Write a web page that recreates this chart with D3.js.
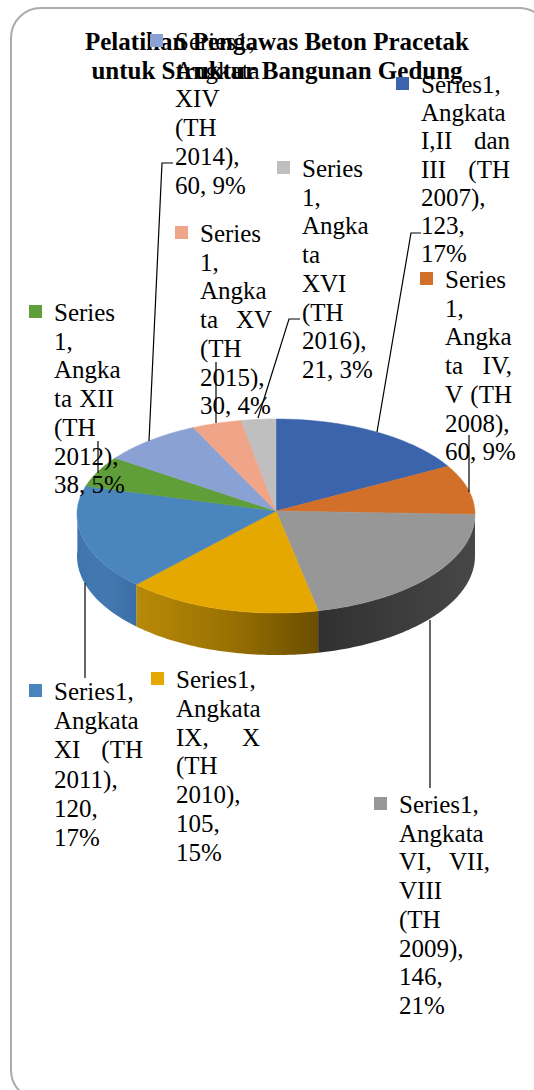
<!DOCTYPE html>
<html>
<head>
<meta charset="utf-8">
<script src="https://cdn.jsdelivr.net/npm/d3@7"></script>
<style>
  html, body { margin: 0; padding: 0; background: #fff; }
  svg { display: block; }
  text { font-family: "Liberation Serif", serif; fill: #000; }
</style>
</head>
<body>
<script>
// Data
const categories = ["Angkata I,II dan III (TH 2007)", "Angkata IV, V (TH 2008)", "Angkata VI, VII, VIII (TH 2009)",
    "Angkata IX, X (TH 2010)", "Angkata XI (TH 2011)", "Angkata XII (TH 2012)",
    "Angkata XIV (TH 2014)", "Angkata XV (TH 2015)", "Angkata XVI (TH 2016)"]
const values = [123, 60, 146, 105, 120, 38, 60, 30, 21]
const colors = ["#3b64ad", "#d2702a", "#979797", "#e5a800", "#4a85be", "#5f9e38", "#8aa1d4", "#f0a488", "#bfbfbf"]
const titleLines = ["Pelatihan Pengawas Beton Pracetak", "untuk Struktur Bangunan Gedung"]

// the label text wraps the way it did in the original, one array per slice
const labelLines = [
    ["Series1,", "Angkata", "I,II dan", "III (TH", "2007),", "123,", "17%"],
    ["Series", "1,", "Angka", "ta IV,", "V (TH", "2008),", "60, 9%"],
    ["Series1,", "Angkata", "VI, VII,", "VIII", "(TH", "2009),", "146,", "21%"],
    ["Series1,", "Angkata", "IX, X", "(TH", "2010),", "105,", "15%"],
    ["Series1,", "Angkata", "XI (TH", "2011),", "120,", "17%"],
    ["Series", "1,", "Angka", "ta XII", "(TH", "2012),", "38, 5%"],
    ["Series1,", "Angkata", "XIV", "(TH", "2014),", "60, 9%"],
    ["Series", "1,", "Angka", "ta XV", "(TH", "2015),", "30, 4%"],
    ["Series", "1,", "Angka", "ta", "XVI", "(TH", "2016),", "21, 3%"]
]

// Layout of the labels: x of text, first baseline, right edge of justified lines, line step
const labelLayout = [
    {x: 421, y: 93, right: 510, step: 28.2},
    {x: 445, y: 288, right: 512, step: 28.7},
    {x: 399, y: 813, right: 490, step: 28.7},
    {x: 176, y: 688, right: 260, step: 28.8},
    {x: 54, y: 700, right: 143, step: 29.2},
    {x: 54, y: 321, right: 114, step: 28.7},
    {x: 175, y: 50, right: 250, step: 28.7},
    {x: 200, y: 242, right: 272, step: 28.7},
    {x: 302, y: 177, right: 368, step: 28.7}
]

// Leader lines, one per labelled slice (gold has none)
const leaders = [
    [[377, 432], [411, 233], [421, 233]],
    [[469, 492], [469, 435]],
    [[430, 620], [430, 788]],
    [[85, 583], [85, 678]],
    [[98, 473], [98, 441]],
    [[149, 441], [162, 163], [173, 163]],
    [[216, 423], [216, 362]],
    [[258, 418], [289, 319], [300, 319]]
]

const width = 534, height = 1090
const swatch = 13

const svg = d3.select("body").append("svg")
    .attr("width", width)
    .attr("height", height)

// Slide frame, runs off the right and bottom of the page
svg.append("rect")
    .attr("x", 11).attr("y", 8)
    .attr("width", 538).attr("height", 1092)
    .attr("rx", 30).attr("ry", 30)
    .attr("fill", "none")
    .attr("stroke", "#ababab")
    .attr("stroke-width", 2)

// Pie geometry, flattened by hand to look like the tilted 3D chart
const cx = 276, cy = 511, rimY = 514
const rx = 199, ryUp = 95, ryDown = 99, depth = 42
const warp = 3.5 * Math.PI / 180

const rimPoint = angle => {
    // perspective pulls the slice edges a bit towards the viewer
    const a = angle - warp * Math.sin(angle)
    const c = Math.cos(a)
    return [cx + rx * Math.sin(a), rimY - (c > 0 ? ryUp : ryDown) * c]
}
const rimPoints = (a0, a1, dy) => {
    const n = Math.max(2, Math.ceil((a1 - a0) / 0.02))
    return d3.range(n + 1).map(i => {
        const p = rimPoint(a0 + (a1 - a0) * i / n)
        return [p[0], p[1] + dy]
    })
}

const arcs = d3.pie().sort(null).value(d => d)(values)
const line = d3.line()

const defs = svg.append("defs")
const sideGradients = [
    {slice: 2, id: "wall-gray", stops: ["#303030", "#3c3c3c", "#474747"]},
    {slice: 3, id: "wall-gold", stops: ["#b88a08", "#9a7202", "#6b4e00"]},
    {slice: 4, id: "wall-blue", stops: ["#3f75ae", "#4478b0", "#3a6ea5"]}
]
sideGradients.forEach(g => {
    const grad = defs.append("linearGradient").attr("id", g.id)
    g.stops.forEach((c, i) => grad.append("stop").attr("offset", i / 2).attr("stop-color", c))
})

// Side walls, only the front half of the rim shows
sideGradients.forEach(g => {
    const d = arcs[g.slice]
    const a0 = Math.max(d.startAngle, Math.PI / 2)
    const a1 = Math.min(d.endAngle, Math.PI * 1.5)
    const pts = rimPoints(a0, a1, 0).concat(rimPoints(a0, a1, depth).reverse())
    svg.append("path")
        .attr("d", line(pts) + "Z")
        .attr("fill", `url(#${g.id})`)
})

// Top of the pie
svg.append("g").selectAll("path")
    .data(arcs)
    .join("path")
    .attr("d", d => line([[cx, cy]].concat(rimPoints(d.startAngle, d.endAngle, 0))) + "Z")
    .attr("fill", (d, i) => colors[i])
    .attr("stroke", (d, i) => colors[i])
    .attr("stroke-width", 0.5)

// Title
svg.append("g").selectAll("text")
    .data(titleLines)
    .join("text")
    .attr("x", 277)
    .attr("y", (d, i) => 50 + i * 29)
    .attr("text-anchor", "middle")
    .attr("font-size", "25px")
    .attr("font-weight", "bold")
    .text(d => d)

// Leader lines
svg.append("g").selectAll("path")
    .data(leaders)
    .join("path")
    .attr("d", d => line(d))
    .attr("fill", "none")
    .attr("stroke", "#000")
    .attr("stroke-width", 1.2)

// Labels with their swatches
labelLines.forEach((lines, i) => {
    const pos = labelLayout[i]
    const g = svg.append("g")
    g.append("rect")
        .attr("x", pos.x - 25)
        .attr("y", pos.y - 16)
        .attr("width", swatch)
        .attr("height", swatch)
        .attr("fill", colors[i])
    lines.forEach((t, j) => {
        const el = g.append("text")
            .attr("x", pos.x)
            .attr("y", pos.y + j * pos.step)
            .attr("font-size", "25px")
            .text(t)
        // these lines are justified in the original
        const gaps = t.split(" ").length - 1
        if (gaps > 0 && !/^\d/.test(t)) {
            const extra = pos.right - pos.x - el.node().getComputedTextLength()
            if (extra > 0) el.style("word-spacing", (extra / gaps) + "px")
        }
    })
})
</script>
</body>
</html>
